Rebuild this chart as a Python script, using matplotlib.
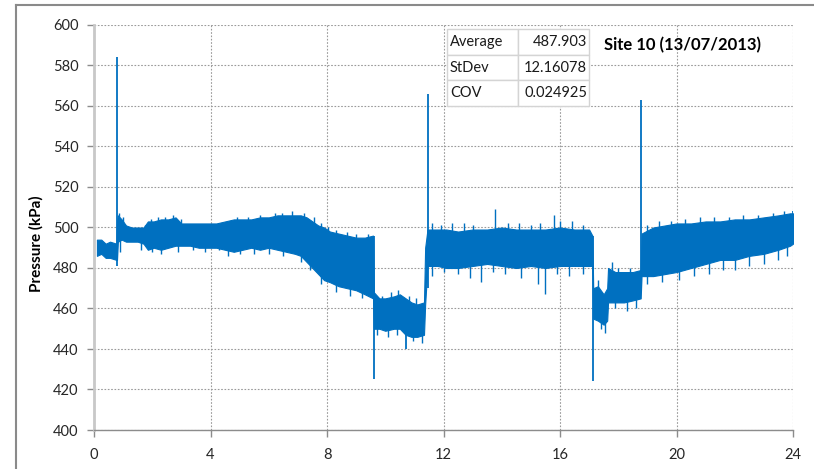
import matplotlib
matplotlib.use('Agg')
import matplotlib.pyplot as plt
from matplotlib.lines import Line2D

plt.rcParams['font.family'] = ['Lato', 'DejaVu Sans']

# Envelope of the noisy pressure band (hours, kPa)
band_t = [0.10, 0.25, 0.40, 0.55, 0.77, 0.79, 0.82, 0.95, 1.10, 1.30,
          1.50, 1.70, 1.85, 2.05, 2.30, 2.55, 2.80, 3.00, 3.30, 3.60,
          3.90, 4.20, 4.50, 4.80, 5.10, 5.40, 5.70, 6.00, 6.30, 6.60,
          6.90, 7.10, 7.30, 7.50, 7.70, 7.90, 8.10, 8.40, 8.70, 9.00,
          9.30, 9.58, 9.61, 9.80, 10.00, 10.30, 10.50, 10.70, 10.90, 11.10,
          11.33, 11.37, 11.45, 11.80, 12.10, 12.50, 13.00, 13.50, 14.00, 14.50,
          15.00, 15.50, 16.00, 16.50, 17.00, 17.11, 17.14, 17.30, 17.50, 17.62,
          17.65, 17.90, 18.20, 18.50, 18.77, 18.80, 19.20, 19.60, 20.00, 20.50,
          21.00, 21.50, 22.00, 22.50, 23.00, 23.50, 23.90, 24.00]
band_lo = [486, 487, 485, 485, 484, 484, 493, 494, 493, 493,
           493, 492, 489, 490, 489, 490, 491, 491, 491, 490,
           490, 490, 489, 488, 489, 490, 489, 490, 489, 488,
           487, 486, 483, 480, 477, 474, 473, 471, 470, 469,
           467, 465, 450, 450, 449, 450, 450, 447, 446, 446,
           447, 462, 481, 481, 480, 480, 481, 482, 481, 480,
           481, 480, 481, 481, 481, 481, 455, 454, 452, 454,
           463, 463, 463, 464, 465, 476, 476, 477, 478, 480,
           482, 484, 484, 486, 487, 489, 491, 492]
band_hi = [494, 494, 492, 493, 492, 503, 506, 504, 501, 500,
           500, 500, 503, 503, 504, 504, 505, 502, 502, 502,
           502, 502, 503, 504, 504, 504, 505, 505, 506, 506,
           506, 506, 505, 503, 501, 500, 498, 497, 496, 495,
           495, 496, 468, 465, 465, 466, 467, 465, 463, 462,
           463, 490, 499, 499, 499, 498, 499, 499, 500, 499,
           499, 499, 500, 499, 499, 496, 470, 471, 467, 470,
           480, 478, 478, 478, 479, 497, 500, 501, 502, 502,
           503, 503, 504, 504, 505, 506, 507, 507]

# Short excursions above the band (hour, from, to)
up_t = [0.85, 1.00, 1.75, 1.95, 2.20, 2.45, 2.70, 3.00, 4.90, 5.30,
        5.70, 6.20, 6.45, 6.80, 7.20, 7.55, 7.80, 8.05, 8.30, 8.70,
        9.00, 9.40, 9.90, 10.20, 10.45, 10.80, 11.05, 11.60, 11.90, 12.30,
        12.70, 13.00, 13.77, 14.20, 14.60, 15.00, 15.30, 15.79, 16.00, 16.40,
        16.80, 17.30, 17.80, 18.00, 18.40, 19.00, 19.40, 19.80, 20.30, 20.80,
        21.30, 21.80, 22.30, 22.80, 23.30, 23.70]
up_from = [503, 501, 497, 500, 501, 501, 502, 500, 501, 501,
           502, 503, 503, 503, 503, 500, 498, 496, 495, 493,
           492, 492, 462, 463, 464, 462, 459, 496, 496, 496,
           496, 496, 497, 497, 496, 496, 496, 497, 497, 496,
           496, 468, 476, 475, 475, 496, 498, 499, 499, 500,
           500, 501, 501, 502, 503, 504]
up_to = [507, 505, 501, 504, 505, 505, 506, 504, 505, 505,
         506, 507, 507, 508, 507, 505, 502, 500, 499, 498,
         497, 497, 466, 468, 469, 466, 465, 502, 501, 502,
         502, 501, 509, 502, 502, 501, 502, 506, 503, 503,
         501, 474, 483, 480, 480, 501, 503, 503, 504, 505,
         505, 505, 506, 506, 507, 508]

# Short excursions below the band (hour, from, to)
down_t = [0.90, 1.60, 2.00, 2.30, 2.90, 3.40, 3.80, 4.30, 4.60, 5.00,
          5.50, 6.00, 6.50, 7.10, 7.40, 7.80, 8.30, 8.80, 9.20, 9.70,
          10.10, 10.40, 10.95, 11.25, 11.60, 12.00, 12.50, 12.90, 13.30, 13.70,
          14.10, 14.65, 15.25, 15.50, 15.90, 16.30, 16.80, 17.40, 17.55, 17.90,
          18.30, 18.60, 19.00, 19.50, 20.10, 20.60, 21.10, 21.60, 22.00, 22.50,
          23.00, 23.50, 23.80]
down_from = [488, 489, 488, 487, 488, 489, 488, 489, 486, 487,
             487, 487, 486, 483, 479, 472, 468, 466, 465, 447,
             446, 447, 444, 443, 476, 478, 477, 475, 473, 478,
             477, 475, 472, 467, 477, 476, 477, 450, 448, 460,
             459, 460, 472, 473, 474, 476, 477, 479, 479, 481,
             482, 484, 486]
down_to = [494, 494, 492, 492, 493, 493, 492, 492, 491, 491,
           492, 492, 490, 488, 484, 478, 474, 472, 470, 452,
           451, 452, 448, 448, 483, 483, 482, 483, 483, 483,
           483, 483, 483, 483, 483, 483, 483, 455, 454, 465,
           465, 466, 478, 478, 480, 482, 484, 486, 486, 488,
           489, 491, 493]

# Large transients (hour, low, high)
spike_t = [0.78, 9.60, 10.70, 11.47, 17.13, 18.78, 24.00]
spike_lo = [481, 425, 440, 470, 424, 470, 495]
spike_hi = [584, 496, 460, 566, 496, 563, 508]

stat_names = ['Average', 'StDev', 'COV']
stat_values = ['487.903', '12.16078', '0.024925']

blue = '#0070C0'

fig = plt.figure(figsize=(8.14, 4.69), dpi=100)
ax = fig.add_axes([94/814, 1-430/469, 699/814, 405/469])

ax.fill_between(band_t, band_lo, band_hi, color=blue, linewidth=0.8,
                edgecolor=blue, zorder=3)
ax.vlines(up_t, up_from, up_to, color=blue, linewidth=1.0, zorder=3)
ax.vlines(down_t, down_from, down_to, color=blue, linewidth=1.0, zorder=3)
ax.vlines(spike_t, spike_lo, spike_hi, color=blue, linewidth=1.3, zorder=3)

ax.set_xlim(0, 24)
ax.set_ylim(400, 600)
ax.set_xticks(range(0, 25, 4))
ax.set_yticks(range(400, 601, 20))
ax.grid(True, color='#9A9A9A', linestyle=(0, (1.5, 1.5)), linewidth=0.8)
ax.set_axisbelow(True)
for side in ['top', 'right']:
    ax.spines[side].set_visible(False)
ax.spines['left'].set_color('#C8C8C8')
ax.spines['left'].set_linewidth(2)
ax.spines['bottom'].set_color('#8C8C8C')
ax.spines['bottom'].set_linewidth(1)
ax.tick_params(axis='both', colors='#8C8C8C', labelcolor='#262626',
               labelsize=10.5, length=5, width=1)
ax.tick_params(axis='x', pad=8)
ax.tick_params(axis='y', pad=6)
ax.set_ylabel('Pressure (kPa)', fontsize=11, fontweight='bold')
ax.yaxis.set_label_coords(-0.0715, 0.459)

tab = ax.table(cellText=[[n, v] for n, v in zip(stat_names, stat_values)],
               bbox=[0.505, 0.800, 0.203, 0.190], zorder=5)
tab.auto_set_font_size(False)
for (r, c), cell in tab.get_celld().items():
    cell.set_edgecolor('#D4D4D4')
    cell.set_facecolor('white')
    cell.set_linewidth(1)
    cell.get_text().set_fontsize(10.5)
    cell.get_text().set_color('#1A1A1A')
    if c == 0:
        cell.get_text().set_horizontalalignment('left')
        cell.PAD = 0.04
    else:
        cell.get_text().set_horizontalalignment('right')
        cell.PAD = 0.025

ax.text(0.730, 0.951, 'Site 10 (13/07/2013)', transform=ax.transAxes,
        fontsize=12, fontweight='bold', va='center', ha='left', zorder=6)

# outer chart frame
fig.add_artist(Line2D([16/814, 16/814], [0, 1-5/469], transform=fig.transFigure,
                      color='#8A8A8A', linewidth=1.5))
fig.add_artist(Line2D([16/814, 1], [1-5/469, 1-5/469], transform=fig.transFigure,
                      color='#8A8A8A', linewidth=1.5))

fig.savefig('out.png', dpi=100)
